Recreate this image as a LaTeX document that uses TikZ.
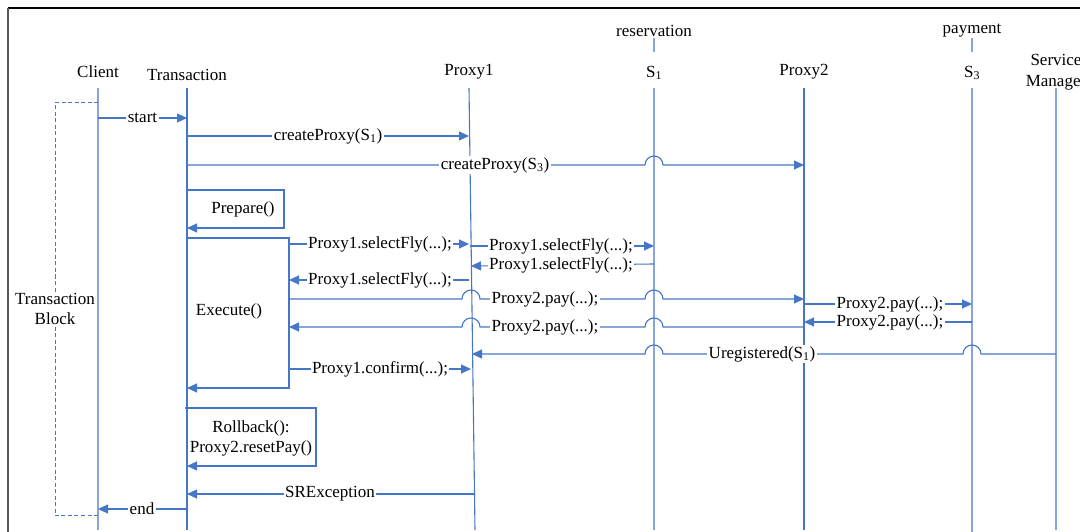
\documentclass[tikz,border=0pt]{standalone}
\usepackage{fontspec}
\setmainfont{Liberation Serif}
\usetikzlibrary{arrows.meta}
\definecolor{mblue}{RGB}{70,118,198}
\definecolor{lblue}{RGB}{135,165,220}
\tikzset{
  lbl/.style={fill=white,inner sep=1.5pt,font=\fontsize{17}{20}\selectfont},
  head/.style={inner sep=1pt,font=\fontsize{17}{20}\selectfont,align=center},
  life/.style={draw=mblue,line width=1.1pt},
  lifel/.style={draw=lblue,line width=1.3pt},
  msg/.style={draw=mblue,line width=1.1pt,-{Triangle[length=10pt,width=9pt]}},
  plain/.style={draw=mblue,line width=1.1pt},
}
\newcommand{\jmp}[1]{-- (#1-9,\yy) arc[start angle=180,end angle=0,radius=9pt]}
\begin{document}
\begin{tikzpicture}[x=1pt,y=1pt]
\useasboundingbox (0,0) rectangle (1080,-532);
\clip (0,0) rectangle (1080,-532);
% frame
\draw[black,line width=1.2pt] (8,-8) -- (1080,-8);
\draw[black!65,line width=2pt] (8,-8) -- (8,-532);
% headers
\node[head] (hcl) at (98,-72) {Client};
\node[head] (htr) at (187,-75) {Transaction};
\node[head] (hp1) at (469,-72) {Proxy1};
\node[head] (hres) at (654,-31) {reservation};
\node[head] (hs1) at (654,-73) {S\textsubscript{1}};
\node[head] (hp2) at (804,-72) {Proxy2};
\node[head] (hpay) at (972,-31) {payment};
\node[head] (hs3) at (972,-73) {S\textsubscript{3}};
\node[head,font=\fontsize{17}{21}\selectfont] (hsm) at (1056,-72) {Service\\Manager};
% lifeline coordinates
\coordinate (cl) at (98,-88);   \coordinate (clb) at (98,-530);
\coordinate (tr) at (187,-88);  \coordinate (trb) at (187,-530);
\coordinate (p1) at (469,-88);  \coordinate (p1b) at (475,-530);
\coordinate (s1t) at (654,-38); \coordinate (s1m) at (654,-52);
\coordinate (s1) at (654,-88);  \coordinate (s1b) at (654,-530);
\coordinate (p2) at (804,-88);  \coordinate (p2b) at (804,-530);
\coordinate (s3t) at (972,-38); \coordinate (s3m) at (972,-52);
\coordinate (s3) at (972,-88);  \coordinate (s3b) at (972,-532);
\coordinate (sm) at (1056,-88); \coordinate (smb) at (1056,-530);
% lifelines
\draw[lifel] (cl) -- (clb);
\draw[life] (tr) -- (trb);
\draw[life] (p1) -- (p1b);
\draw[lifel] (s1t) -- (s1m);
\draw[lifel] (s1) -- (s1b);
\draw[life] (p2) -- (p2b);
\draw[lifel] (s3t) -- (s3m);
\draw[lifel] (s3) -- (s3b);
\draw[lifel] (sm) -- (smb);
% transaction block
\draw[mblue,line width=1pt,dash pattern=on 4pt off 2.5pt] (98,-103) -- (55,-103) -- (55,-515) -- (98,-515);
\node[lbl,align=center] (tb) at (55,-309) {Transaction\\Block};
% start
\draw[msg] (98,-118) -- node[lbl] (lstart) {start} (187,-118);
% createProxy S1
\draw[msg] (187,-136) -- node[lbl,pos=0.5] (lc1) {createProxy(S\textsubscript{1})} (469,-136);
% createProxy S3 with jump
\def\yy{-165}
\draw[msg] (187,\yy) \jmp{654} -- (804,\yy);
\node[lbl] (lc3) at (495,-165) {createProxy(S\textsubscript{3})};
% Prepare box
\draw[msg] (187,-190) -- (284,-190) -- (284,-228) -- (187,-228);
\node[head] (lprep) at (243,-209) {Prepare()};
% Execute box
\draw[msg] (187,-238) -- (289,-238) -- (289,-388) -- (187,-388);
\node[head] (lexec) at (229,-311) {Execute()};
% selectFly messages
\draw[msg] (289,-244) -- (469,-244);
\node[lbl] (lsf1) at (380,-244) {Proxy1.selectFly(...);};
\draw[msg] (470,-246) -- (654,-246);
\node[lbl] (lsf2) at (561,-246) {Proxy1.selectFly(...);};
\draw[msg] (654,-264) -- (471,-266);
\node[lbl] (lsf3) at (561,-265) {Proxy1.selectFly(...);};
\draw[msg] (469,-280) -- (289,-280);
\node[lbl] (lsf4) at (380,-280) {Proxy1.selectFly(...);};
% pay messages
\def\yy{-299}
\draw[msg] (289,\yy) \jmp{471} \jmp{654} -- (804,\yy);
\node[lbl] (lpay1) at (545,-299) {Proxy2.pay(...);};
\draw[msg] (804,-304) -- (972,-304);
\node[lbl] (lpay2) at (890,-304) {Proxy2.pay(...);};
\draw[msg] (972,-322) -- (804,-322);
\node[lbl] (lpay3) at (890,-322) {Proxy2.pay(...);};
\def\yy{-327}
\draw[msg] (804,\yy) -- (663,\yy) arc[start angle=0,end angle=180,radius=9pt] -- (480,\yy) arc[start angle=0,end angle=180,radius=9pt] -- (289,\yy);
\node[lbl] (lpay4) at (545,-327) {Proxy2.pay(...);};
% Uregistered
\def\yy{-354}
\draw[msg] (1056,\yy) -- (981,\yy) arc[start angle=0,end angle=180,radius=9pt] -- (663,\yy) arc[start angle=0,end angle=180,radius=9pt] -- (472,\yy);
\node[lbl] (lureg) at (762,-354) {Uregistered(S\textsubscript{1})};
% confirm
\draw[msg] (289,-369) -- (471,-369);
\node[lbl] (lconf) at (380,-369) {Proxy1.confirm(...);};
% Rollback box
\draw[msg] (185,-408) -- (316,-408) -- (316,-466) -- (187,-466);
\node[head] (lrb) at (251,-438) {Rollback():\\Proxy2.resetPay()};
% SRException
\draw[msg] (475,-494) -- (187,-494);
\node[lbl] (lsr) at (330,-494) {SRException};
% end
\draw[msg] (187,-509) -- (98,-509);
\node[lbl] (lend) at (142,-509) {end};
\end{tikzpicture}
\end{document}
